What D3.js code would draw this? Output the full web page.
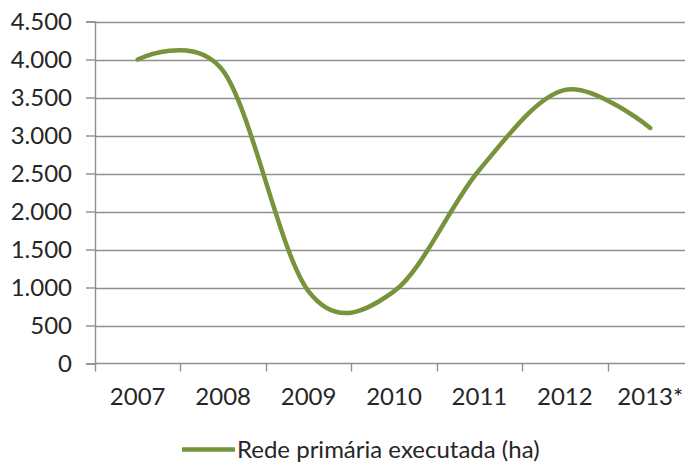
<!DOCTYPE html>
<html>
<head>
<meta charset="utf-8">
<script src="https://cdn.jsdelivr.net/npm/d3@7"></script>
<style>
  html, body { margin: 0; padding: 0; background: #fff; }
  svg { display: block; }
  text { font-family: Lato, "Open Sans", sans-serif; fill: #262626; }
</style>
</head>
<body>
<svg id="chart" width="685" height="462"></svg>
<script>
const categories = ["2007", "2008", "2009", "2010", "2011", "2012", "2013*"];
const values = [4000, 3850, 950, 950, 2550, 3600, 3100];
const yTicks = [0, 500, 1000, 1500, 2000, 2500, 3000, 3500, 4000, 4500];
const seriesName = "Rede primária executada (ha)";

(function () {
const svg = d3.select("#chart");
const mLeft = 95, mRight = 693, mTop = 21.5, mBottom = 363.5;
const FS = 24;

const x = d3.scaleBand().domain(categories).range([mLeft, mRight]).padding(0);
const y = d3.scaleLinear().domain([0, 4500]).range([mBottom, mTop]);
const fmt = v => d3.format(",")(v).replace(/,/g, ".");

// gridlines
svg.append("g").selectAll("line").data(yTicks.filter(d => d > 0)).join("line")
  .attr("x1", mLeft).attr("x2", mRight)
  .attr("y1", d => Math.round(y(d)) + 0.5).attr("y2", d => Math.round(y(d)) + 0.5)
  .attr("stroke", "#8f8f8f").attr("stroke-width", 1.4);

// y axis
const yAxis = d3.axisLeft(y).tickValues(yTicks).tickSize(9).tickPadding(14).tickFormat(fmt);
const gy = svg.append("g").attr("transform", `translate(${mLeft},0)`).call(yAxis);
gy.select(".domain").attr("stroke", "#8f8f8f").attr("stroke-width", 1.4);
gy.selectAll(".tick line").attr("stroke", "#8f8f8f").attr("stroke-width", 1.4);
gy.selectAll(".tick text").attr("font-size", FS).attr("font-family", "Lato").attr("fill", "#262626").attr("dy", "0.35em");

// x axis
const gx = svg.append("g").attr("transform", `translate(0,${mBottom})`);
gx.append("line").attr("x1", mLeft).attr("x2", mRight).attr("y1", 0).attr("y2", 0)
  .attr("stroke", "#8f8f8f").attr("stroke-width", 1.4);
const boundaries = categories.map(c => x(c)).concat([x(categories[categories.length - 1]) + x.bandwidth()]);
gx.selectAll("line.t").data(boundaries).join("line").attr("class", "t")
  .attr("x1", d => Math.round(d) + 0.5).attr("x2", d => Math.round(d) + 0.5)
  .attr("y1", 0).attr("y2", 8)
  .attr("stroke", "#8f8f8f").attr("stroke-width", 1.4);
gx.selectAll("text").data(categories).join("text")
  .attr("x", d => x(d) + x.bandwidth() / 2)
  .attr("y", 33).attr("dy", "0.35em")
  .attr("text-anchor", "middle").attr("font-size", FS)
  .text(d => d);

// line
const line = d3.line()
  .x((d, i) => x(categories[i]) + x.bandwidth() / 2)
  .y(d => y(d))
  .curve(d3.curveCardinal.tension(0));
svg.append("path").datum(values)
  .attr("d", line)
  .attr("fill", "none")
  .attr("stroke", "#77933C")
  .attr("stroke-width", 4.5)
  .attr("stroke-linecap", "round")
  .attr("stroke-linejoin", "round");

// legend
const lg = svg.append("g");
lg.append("line").attr("x1", 182).attr("x2", 235).attr("y1", 449.5).attr("y2", 449.5)
  .attr("stroke", "#77933C").attr("stroke-width", 4.5);
lg.append("text").attr("x", 237).attr("y", 450).attr("dy", "0.35em")
  .attr("font-size", FS).text(seriesName);
})();
</script>
</body>
</html>
